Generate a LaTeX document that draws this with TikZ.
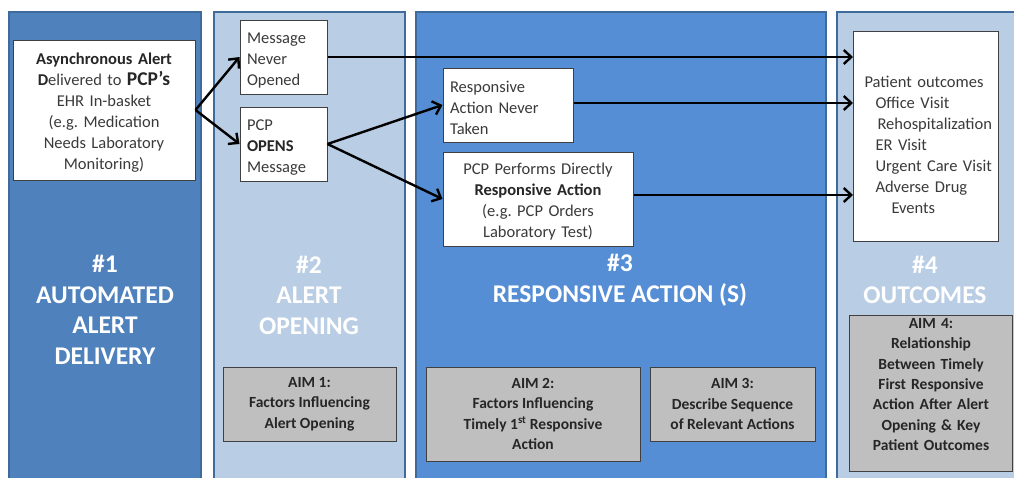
\documentclass[tikz,border=0pt]{standalone}
\usepackage{fontspec}
\setmainfont{Carlito}
\usetikzlibrary{arrows.meta}
\frenchspacing

\definecolor{colA}{HTML}{4F81BD}
\definecolor{colB}{HTML}{B9CDE5}
\definecolor{colC}{HTML}{558ED5}
\definecolor{colEdge}{HTML}{3F6A9C}
\definecolor{aimFill}{HTML}{BFBFBF}
\definecolor{aimEdge}{HTML}{404040}
\definecolor{ink}{HTML}{3A3A3A}

\newcommand{\bodyfont}{\fontsize{16.5}{21}\selectfont}
\newcommand{\titlefont}{\fontsize{25.5}{30.5}\selectfont\bfseries}
\newcommand{\aimfont}{\fontsize{15.5}{20.3}\selectfont\bfseries}

\tikzset{
  column/.style={draw=colEdge, line width=2pt},
  wbox/.style={draw=black!75, fill=white, line width=1pt, inner sep=0pt,
    font=\bodyfont, text=ink},
  lowered/.style={execute at begin node={\rule{0pt}{17.5pt}}},
  aimbox/.style={draw=aimEdge, fill=aimFill, line width=1pt, inner sep=0pt,
    font=\aimfont, text=black!85, align=center},
  title/.style={text=white, font=\titlefont, align=center},
  flow/.style={line width=2.4pt, -{Straight Barb[length=7.5pt,width=14pt]}},
}

\begin{document}
\begin{tikzpicture}[x=1pt, y=-1pt]
\clip (0,0) rectangle (1014,477);
\fill[white] (0,0) rectangle (1014,477);

% four stage columns
\filldraw[column, fill=colA] (9,12) rectangle (201,490);
\filldraw[column, fill=colB] (214,12) rectangle (405,490);
\filldraw[column, fill=colC] (416,12) rectangle (826,490);
\filldraw[column, fill=colB] (837,12) rectangle (1030,490);

% stage titles
\node[title] (t1) at (105,310) {\#1\\AUTOMATED\\ALERT\\DELIVERY};
\node[title] (t2) at (309,295) {\#2\\ALERT\\OPENING};
\node[title] (t3) at (620,280) {\#3\\RESPONSIVE ACTION (S)};
\node[title] (t4) at (925,280) {\#4\\OUTCOMES};

% flow boxes
\node[wbox, lowered, minimum width=182pt, minimum height=140pt, text width=180pt, align=center]
  (alert) at (104,110)
  {\textbf{\color{black!85}Asynchronous Alert}\\
   \textbf{\color{black!85}D}elivered to \textbf{\color{black!85}\fontsize{19.5}{21}\selectfont PCP’s}\\
   EHR In-basket\\(e.g. Medication\\Needs Laboratory\\Monitoring)};

\node[wbox, lowered, minimum width=87pt, minimum height=74pt, text width=73pt, align=left]
  (never) at (283.5,57) {Message\\Never\\Opened};

\node[wbox, lowered, minimum width=87pt, minimum height=74pt, text width=73pt, align=left]
  (opens) at (283.5,144) {PCP\\\textbf{\color{black!85}OPENS}\\Message};

\node[wbox, lowered, minimum width=130pt, minimum height=74pt, text width=116pt, align=left]
  (notaken) at (508,105) {Responsive\\Action Never\\Taken};

\node[wbox, lowered, minimum width=190pt, minimum height=94pt, text width=188pt, align=center]
  (performs) at (538,199)
  {PCP Performs Directly\\\textbf{\color{black!85}Responsive Action}\\(e.g. PCP Orders\\Laboratory Test)};

\node[wbox, anchor=north west, text width=145pt, align=left,
      text height=56pt, text depth=154pt, inner xsep=0pt]
  (outcome) at (853,31)
  {\hspace*{11pt}Patient outcomes\\
   \hspace*{22pt}Office Visit\\
   \hspace*{24pt}Rehospitalization\\
   \hspace*{22pt}ER Visit\\
   \hspace*{22pt}Urgent Care Visit\\
   \hspace*{22pt}Adverse Drug\\
   \hspace*{38pt}Events};

% study aims
\node[aimbox, lowered, minimum width=173pt, minimum height=74pt] (aim1) at (309.5,404)
  {AIM 1:\\Factors Influencing\\Alert Opening};
\node[aimbox, lowered, minimum width=214pt, minimum height=94pt] (aim2) at (533,414)
  {AIM 2:\\Factors Influencing\\Timely 1\textsuperscript{st} Responsive\\Action};
\node[aimbox, lowered, minimum width=165pt, minimum height=74pt] (aim3) at (732.5,404)
  {AIM 3:\\Describe Sequence\\of Relevant Actions};
\node[aimbox, anchor=north west, text width=163pt, text height=13pt, text depth=143pt]
  (aim4) at (849,315)
  {AIM 4:\\Relationship\\Between Timely\\First Responsive\\Action After Alert\\Opening \& Key\\Patient Outcomes};

% connectors
\draw[flow] (alert.east) -- (never.west);
\draw[flow] (alert.east) -- (opens.west);
\draw[flow] (opens.east) -- (notaken.west);
\draw[flow] (opens.east) -- (performs.west);
\draw[flow] (never.east) -- (never.east -| outcome.west);
\draw[flow] ([yshift=2pt]notaken.east) -- ([yshift=2pt]notaken.east -| outcome.west);
\draw[flow] ([yshift=4pt]performs.east) -- ([yshift=4pt]performs.east -| outcome.west);
\end{tikzpicture}
\end{document}
